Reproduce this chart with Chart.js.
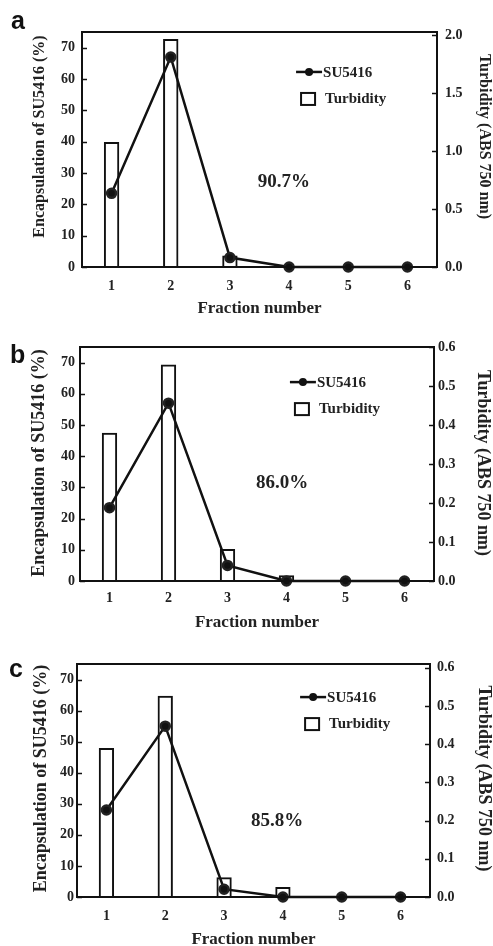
<!DOCTYPE html>
<html>
<head>
<meta charset="utf-8">
<script src="https://cdn.jsdelivr.net/npm/chart.js@4.4.1/dist/chart.umd.min.js"></script>
<style>
  html, body { margin: 0; padding: 0; background: #fff; }
  #wrap { position: relative; width: 493px; height: 946px; }
  canvas { position: absolute; left: 0; }
</style>
</head>
<body>
<div id="wrap">
  <canvas id="chart-a" width="493" height="318" style="top:0px"></canvas>
  <canvas id="chart-b" width="493" height="314" style="top:318px"></canvas>
  <canvas id="chart-c" width="493" height="314" style="top:632px"></canvas>
</div>
<script>
// fractions on the x axis
const fractions = ["1", "2", "3", "4", "5", "6"];

// SU5416 encapsulation (%) - left axis
const su5416A = [23.5, 67, 3, 0, 0, 0];
const su5416B = [23.5, 57, 5, 0, 0, 0];
const su5416C = [28, 55, 2.5, 0, 0, 0];

// turbidity (ABS 750 nm) - right axis
const turbidityA = [1.08, 1.97, 0.10, null, null, null];
const turbidityB = [0.38, 0.555, 0.082, 0.015, null, null];
const turbidityC = [0.39, 0.527, 0.052, 0.026, null, null];

// tick labels
const leftTicks = [0, 10, 20, 30, 40, 50, 60, 70];
const rightTicksA = [0, 0.5, 1.0, 1.5, 2.0];
const rightTicksBC = [0, 0.1, 0.2, 0.3, 0.4, 0.5, 0.6];

const efficiency = ["90.7%", "86.0%", "85.8%"];
const panelLetters = ["a", "b", "c"];
const leftTitle = "Encapsulation of SU5416 (%)";
const rightTitle = "Turbidity (ABS 750 nm)";

const SERIF = "'Liberation Serif', 'Times New Roman', serif";

// frame, inward ticks, axis titles, legend, panel letter and percentage label
const decorPlugin = {
    id: "decor",
    afterDatasetsDraw(chart, args, opts) {
        const ctx = chart.ctx;
        const area = chart.chartArea;
        const w = area.right - area.left;
        const h = area.bottom - area.top;
        const midY = area.top + h / 2;
        ctx.save();
        ctx.strokeStyle = "#111";
        ctx.lineWidth = 2;
        ctx.strokeRect(area.left, area.top, w, h);

        // inward tick marks on both y axes
        ctx.lineWidth = 1.5;
        ["y", "y1"].forEach(id => {
            const s = chart.scales[id];
            s.ticks.forEach(t => {
                const py = Math.round(s.getPixelForValue(t.value)) + 0.5;
                ctx.beginPath();
                if (id === "y") {
                    ctx.moveTo(area.left, py);
                    ctx.lineTo(area.left + 5, py);
                } else {
                    ctx.moveTo(area.right, py);
                    ctx.lineTo(area.right - 5, py);
                }
                ctx.stroke();
            });
        });

        // y axis titles
        ctx.fillStyle = "#222";
        ctx.font = "bold " + opts.yTitleSize + "px " + SERIF;
        ctx.textAlign = "center";
        ctx.textBaseline = "middle";
        ctx.save();
        ctx.translate(opts.leftTitleX, midY + opts.titleShift);
        ctx.rotate(-Math.PI / 2);
        ctx.fillText(leftTitle, 0, 0);
        ctx.restore();
        ctx.save();
        ctx.translate(opts.rightTitleX, midY + opts.titleShift);
        ctx.rotate(Math.PI / 2);
        ctx.fillText(rightTitle, 0, 0);
        ctx.restore();

        // legend
        const lx = area.left + opts.legendX * w;
        const ly = area.top + opts.legendY * h;
        ctx.lineWidth = 2.5;
        ctx.beginPath();
        ctx.moveTo(lx, ly);
        ctx.lineTo(lx + 26, ly);
        ctx.stroke();
        ctx.fillStyle = "#111";
        ctx.beginPath();
        ctx.arc(lx + 13, ly, 4, 0, Math.PI * 2);
        ctx.fill();
        ctx.lineWidth = 2;
        ctx.strokeRect(lx + 5, ly + 21, 14, 12);

        ctx.fillStyle = "#222";
        ctx.font = "bold 15px " + SERIF;
        ctx.textAlign = "left";
        ctx.fillText("SU5416", lx + 27, ly + 1);
        ctx.fillText("Turbidity", lx + 29, ly + 27);

        // percentage
        ctx.font = "bold 19px " + SERIF;
        ctx.textAlign = "center";
        ctx.fillText(opts.label, area.left + opts.labelX * w, area.top + opts.labelY * h);

        // panel letter
        ctx.fillStyle = "#111";
        ctx.font = "bold 25px 'Liberation Sans', Arial, sans-serif";
        ctx.textAlign = "left";
        ctx.textBaseline = "alphabetic";
        ctx.fillText(opts.letter, opts.letterX, opts.letterY);
        ctx.restore();
    }
};

function makePanel(canvasId, su, turb, rightTicks, rightMax, layout) {
    const ctx = document.getElementById(canvasId).getContext("2d");
    const tickFont = { family: SERIF, size: 14, weight: "bold" };
    return new Chart(ctx, {
        type: "bar",
        data: {
            labels: fractions,
            datasets: [
                {
                    type: "line",
                    label: "SU5416",
                    data: su,
                    yAxisID: "y",
                    borderColor: "#111",
                    backgroundColor: "#111",
                    borderWidth: 2.5,
                    pointRadius: 4.5,
                    pointBackgroundColor: "#111",
                    pointBorderColor: "#222",
                    tension: 0,
                    clip: false,
                    order: 0
                },
                {
                    type: "bar",
                    label: "Turbidity",
                    data: turb,
                    yAxisID: "y1",
                    backgroundColor: "rgba(255,255,255,0)",
                    borderColor: "#111",
                    borderWidth: 2,
                    borderSkipped: "bottom",
                    categoryPercentage: 1,
                    barPercentage: 0.26,
                    order: 1
                }
            ]
        },
        options: {
            responsive: false,
            animation: false,
            devicePixelRatio: 1,
            layout: { padding: { top: layout.top, left: 30, right: 0, bottom: 0 } },
            plugins: {
                legend: { display: false },
                tooltip: { enabled: false },
                decor: layout.decor
            },
            scales: {
                x: {
                    grid: { display: false, drawTicks: false },
                    border: { display: false },
                    ticks: { color: "#222", padding: layout.xPad, font: tickFont },
                    title: {
                        display: true,
                        text: "Fraction number",
                        color: "#222",
                        padding: { top: 0, bottom: layout.xTitlePad },
                        font: { family: SERIF, size: 17, weight: "bold", lineHeight: 1 }
                    },
                    afterFit: s => { s.height = layout.xHeight; }
                },
                y: {
                    position: "left",
                    min: 0,
                    max: 75,
                    grid: { display: false, drawTicks: false },
                    border: { display: false },
                    afterBuildTicks: s => { s.ticks = leftTicks.map(v => ({ value: v })); },
                    ticks: { color: "#222", padding: layout.leftPad, font: tickFont },
                    afterFit: s => { s.width = layout.leftWidth; }
                },
                y1: {
                    position: "right",
                    min: 0,
                    max: rightMax,
                    grid: { display: false, drawTicks: false },
                    border: { display: false },
                    afterBuildTicks: s => { s.ticks = rightTicks.map(v => ({ value: v })); },
                    ticks: {
                        color: "#222",
                        padding: layout.rightPad,
                        font: tickFont,
                        callback: v => Number(v).toFixed(1)
                    },
                    afterFit: s => { s.width = layout.rightWidth; }
                }
            }
        },
        plugins: [decorPlugin]
    });
}

document.addEventListener("DOMContentLoaded", () => {
    makePanel("chart-a", su5416A, turbidityA, rightTicksA, 2.03, {
        top: 32, xHeight: 51, xPad: 11, xTitlePad: 1, leftWidth: 52, rightWidth: 56, leftPad: 7, rightPad: 8,
        decor: { legendX: 0.603, legendY: 0.17, label: efficiency[0], labelX: 0.569, labelY: 0.638,
                 letter: panelLetters[0], letterX: 11, letterY: 29,
                 yTitleSize: 16, titleShift: -13, leftTitleX: 40, rightTitleX: 484 }
    });
    makePanel("chart-b", su5416B, turbidityB, rightTicksBC, 0.6, {
        top: 29, xHeight: 51, xPad: 9, xTitlePad: 1, leftWidth: 50, rightWidth: 59, leftPad: 5, rightPad: 4,
        decor: { legendX: 0.593, legendY: 0.15, label: efficiency[1], labelX: 0.571, labelY: 0.581,
                 letter: panelLetters[1], letterX: 10, letterY: 45,
                 yTitleSize: 18, titleShift: -1, leftTitleX: 39, rightTitleX: 483 }
    });
    makePanel("chart-c", su5416C, turbidityC, rightTicksBC, 0.61, {
        top: 32, xHeight: 49, xPad: 11, xTitlePad: -2, leftWidth: 47, rightWidth: 63, leftPad: 3, rightPad: 7,
        decor: { legendX: 0.632, legendY: 0.142, label: efficiency[2], labelX: 0.567, labelY: 0.674,
                 letter: panelLetters[2], letterX: 9, letterY: 45,
                 yTitleSize: 18, titleShift: -2, leftTitleX: 41, rightTitleX: 484 }
    });
});
</script>
</body>
</html>
